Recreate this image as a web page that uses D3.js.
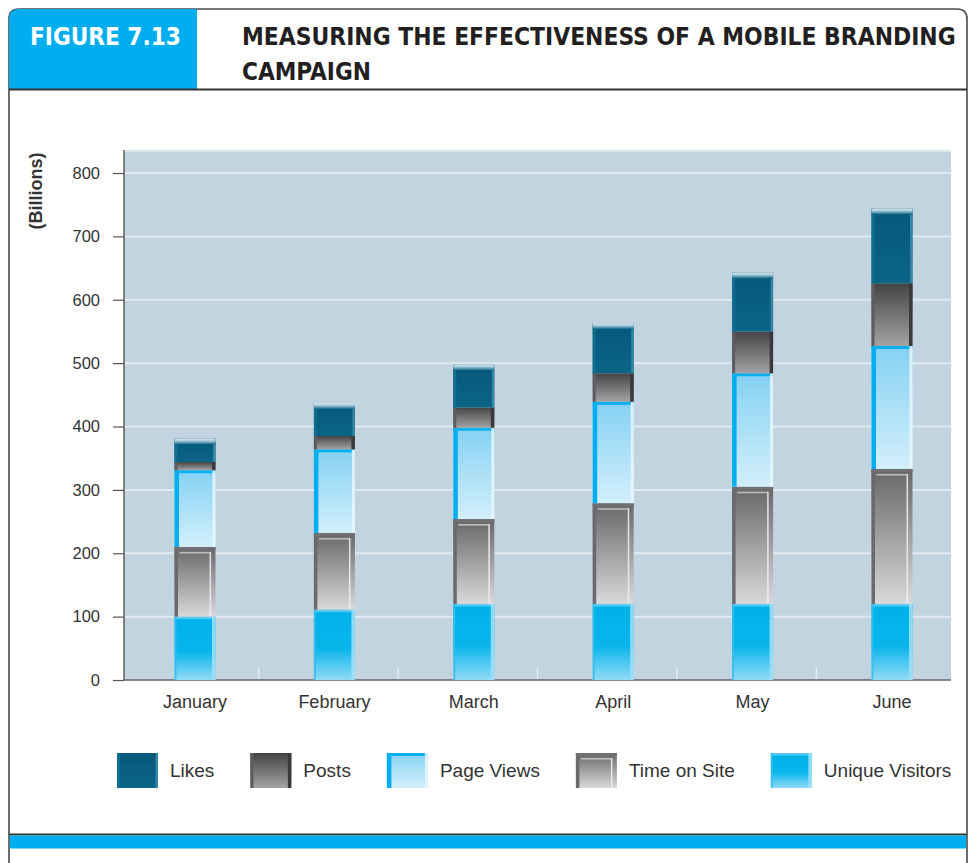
<!DOCTYPE html>
<html>
<head>
<meta charset="utf-8">
<script src="https://cdn.jsdelivr.net/npm/d3@7"></script>
<style>
  html, body { margin: 0; padding: 0; background: #ffffff; }
  svg { display: block; }
</style>
</head>
<body>
<svg id="chart" width="970" height="863"></svg>
<script>
// Monthly figures, in billions, for each campaign metric
const months = ["January", "February", "March", "April", "May", "June"];
const uniqueVisitors = [100, 111, 120, 120, 120, 120];
const timeOnSite = [110, 121, 134, 159, 185, 213];
const pageViews = [121, 132, 144, 160, 179, 194];
const posts = [13, 21, 32, 45, 66, 99];
const likes = [37, 52, 68, 79, 93, 118];
const yTicks = [0, 100, 200, 300, 400, 500, 600, 700, 800];

// Stack order, bottom to top
const seriesKeys = ["uniqueVisitors", "timeOnSite", "pageViews", "posts", "likes"];
const seriesNames = {
  likes: "Likes", posts: "Posts", pageViews: "Page Views",
  timeOnSite: "Time on Site", uniqueVisitors: "Unique Visitors"
};
const legendOrder = ["likes", "posts", "pageViews", "timeOnSite", "uniqueVisitors"];

const table = months.map((m, i) => ({
  month: m,
  uniqueVisitors: uniqueVisitors[i],
  timeOnSite: timeOnSite[i],
  pageViews: pageViews[i],
  posts: posts[i],
  likes: likes[i]
}));

const svg = d3.select("#chart");
const defs = svg.append("defs");

function vGrad(id, stops) {
  const g = defs.append("linearGradient").attr("id", id)
    .attr("x1", 0).attr("y1", 0).attr("x2", 0).attr("y2", 1);
  stops.forEach(([o, c]) => g.append("stop").attr("offset", o).attr("stop-color", c));
}
vGrad("g-likes", [[0, "#07587a"], [1, "#0b6586"]]);
vGrad("g-likes-cap", [[0, "#e3eef3"], [0.45, "#9cc2d2"], [1, "#0b6384"]]);
vGrad("g-posts", [[0, "#444446"], [1, "#a3a3a5"]]);
vGrad("g-pageViews", [[0, "#84d1f3"], [1, "#d3effb"]]);
vGrad("g-timeOnSite", [[0, "#676769"], [1, "#d9d9db"]]);
vGrad("g-uniqueVisitors", [[0, "#00b2ea"], [0.55, "#08b5eb"], [1, "#93dbf6"]]);

// ---- Figure frame ----
svg.append("path")
  .attr("d", "M9,863 L9,19 Q9,9 19,9 L957,9 Q967,9 967,19 L967,863")
  .attr("fill", "#ffffff").attr("stroke", "#4a4a4a").attr("stroke-width", 1.6);
svg.append("path")
  .attr("d", "M9,89 L9,19 Q9,9 19,9 L197,9 L197,89 Z")
  .attr("fill", "#00aeef");
svg.append("line").attr("x1", 9).attr("x2", 967).attr("y1", 89.5).attr("y2", 89.5)
  .attr("stroke", "#333333").attr("stroke-width", 1.8);

// Condensed bold heading: squeeze horizontally to the wanted width
const titleFont = "'Liberation Sans Narrow', 'DejaVu Sans Condensed', 'Liberation Sans', sans-serif";
function heading(str, x0, y0, width, color) {
  const t = svg.append("text").attr("x", 0).attr("y", 0)
    .attr("font-family", titleFont).attr("font-weight", "bold").attr("font-size", 25)
    .attr("fill", color).text(str);
  const natural = t.node().getComputedTextLength();
  t.attr("transform", `translate(${x0},${y0}) scale(${width / natural},1)`);
}
heading("FIGURE 7.13", 30, 45, 151, "#ffffff");
heading("MEASURING THE EFFECTIVENESS OF A MOBILE BRANDING", 242, 45, 714, "#231f20");
heading("CAMPAIGN", 242, 80, 129, "#231f20");

// Bottom rule and band
svg.append("line").attr("x1", 9).attr("x2", 967).attr("y1", 834.5).attr("y2", 834.5)
  .attr("stroke", "#333333").attr("stroke-width", 1.8);
svg.append("rect").attr("x", 9.8).attr("y", 835.5).attr("width", 956.4).attr("height", 13)
  .attr("fill", "#00aeef");

// ---- Plot ----
const plot = { left: 124, right: 951, top: 150, bottom: 680 };
const y = d3.scaleLinear().domain([0, 800]).range([680, 173]);
const x = d3.scalePoint().domain(months).range([195, 892]);
const barW = 41;

svg.append("rect")
  .attr("x", plot.left).attr("y", plot.top)
  .attr("width", plot.right - plot.left).attr("height", plot.bottom - plot.top)
  .attr("fill", "#c1d4df");
svg.append("line").attr("x1", plot.left).attr("x2", plot.right)
  .attr("y1", plot.top + 1).attr("y2", plot.top + 1)
  .attr("stroke", "#dae6ec").attr("stroke-width", 2);

// Horizontal gridlines
svg.append("g").selectAll("line").data(yTicks.filter(t => t > 0)).join("line")
  .attr("x1", plot.left).attr("x2", plot.right)
  .attr("y1", d => y(d)).attr("y2", d => y(d))
  .attr("stroke", "#e1eaf0").attr("stroke-width", 2);

// Short separators between month groups along the base
const seps = months.slice(1).map((m, i) => (x(months[i]) + x(m)) / 2 - 6);
svg.append("g").selectAll("line").data(seps).join("line")
  .attr("x1", d => d).attr("x2", d => d)
  .attr("y1", plot.bottom - 13).attr("y2", plot.bottom)
  .attr("stroke", "#e3ecf1").attr("stroke-width", 1.5);

// Y axis
const yAxis = d3.axisLeft(y).tickValues(yTicks).tickSize(11).tickPadding(13).tickFormat(d3.format("d"));
const yg = svg.append("g").attr("transform", `translate(${plot.left},0)`).call(yAxis);
yg.select(".domain").remove();
yg.selectAll(".tick line").attr("stroke", "#555555").attr("stroke-width", 1.2);
yg.selectAll(".tick text").attr("fill", "#333333")
  .attr("font-family", "'Liberation Sans', Arial, sans-serif").attr("font-size", 16.5);
svg.append("line").attr("x1", plot.left).attr("x2", plot.left)
  .attr("y1", plot.top).attr("y2", plot.bottom)
  .attr("stroke", "#555555").attr("stroke-width", 1.4);
svg.append("line").attr("x1", plot.left).attr("x2", plot.right)
  .attr("y1", plot.bottom).attr("y2", plot.bottom)
  .attr("stroke", "#666666").attr("stroke-width", 1.6);

svg.append("text")
  .attr("transform", "translate(42,191) rotate(-90)")
  .attr("text-anchor", "middle")
  .attr("font-family", "'Liberation Sans', Arial, sans-serif").attr("font-weight", "bold")
  .attr("font-size", 18).attr("fill", "#333333")
  .text("(Billions)");

// X labels
svg.append("g").selectAll("text").data(months).join("text")
  .attr("x", d => x(d)).attr("y", 708)
  .attr("text-anchor", "middle")
  .attr("font-family", "'Liberation Sans', Arial, sans-serif").attr("font-size", 18)
  .attr("fill", "#333333")
  .text(d => d);

// ---- Bevelled segment drawing ----
function drawSegment(g, key, x0, y0, w, h, isTop) {
  g.append("rect").attr("x", x0).attr("y", y0).attr("width", w).attr("height", h)
    .attr("fill", `url(#g-${key})`);
  const strip = (sx, sy, sw, sh, c, op = 1) =>
    g.append("rect").attr("x", sx).attr("y", sy).attr("width", Math.max(0, sw))
      .attr("height", Math.max(0, sh)).attr("fill", c).attr("opacity", op);
  if (key === "likes") {
    strip(x0, y0, 3, h, "#0f6d8f");
    strip(x0 + w - 2.5, y0, 2.5, h, "#3b88a6", 0.9);
    if (isTop) {
      g.append("rect").attr("x", x0).attr("y", y0).attr("width", w).attr("height", 6)
        .attr("fill", "url(#g-likes-cap)");
    }
  } else if (key === "posts") {
    strip(x0, y0, 3, h, "#5d5d5f");
    strip(x0 + w - 3.5, y0, 3.5, h, "#3a3a3c");
  } else if (key === "pageViews") {
    strip(x0, y0, 4.5, h, "#02aeef");
    strip(x0, y0, w, 3, "#06b0ef");
    strip(x0 + w - 3, y0, 3, h, "#e4f5fc", 0.9);
  } else if (key === "timeOnSite") {
    strip(x0, y0, 3.5, h, "#6a6a6c");
    strip(x0, y0, w, 3, "#707072");
    strip(x0 + w - 6, y0 + 5, 1.6, h - 5, "#eeeeee", 0.85);
    strip(x0 + 5, y0 + 5, w - 10, 1.6, "#dddddd", 0.7);
  } else if (key === "uniqueVisitors") {
    strip(x0, y0, w, 2.5, "#55c9f1");
    strip(x0 + w - 3.5, y0, 3.5, h, "#9fdff7", 0.9);
    strip(x0, y0, 2, h, "#35bdee", 0.8);
  }
}

const stacked = d3.stack().keys(seriesKeys)(table);
const barsG = svg.append("g");
stacked.forEach(layer => {
  const key = layer.key;
  layer.forEach(d => {
    const x0 = x(d.data.month) - barW / 2;
    const yTop = y(d[1]);
    const h = y(d[0]) - y(d[1]);
    drawSegment(barsG.append("g"), key, x0, yTop, barW, h, key === "likes");
  });
});

// ---- Legend ----
const legendG = svg.append("g");
const legendFont = "'Liberation Sans', Arial, sans-serif";
let lx = 117;
legendOrder.forEach(key => {
  const g = legendG.append("g");
  drawSegment(g, key, lx, 753, 41, 35, false);
  const t = g.append("text").attr("x", lx + 53).attr("y", 777)
    .attr("font-family", legendFont).attr("font-size", 19).attr("fill", "#333333")
    .text(seriesNames[key]);
  const tw = t.node().getComputedTextLength();
  lx = lx + 53 + tw + 36;
});
</script>
</body>
</html>
